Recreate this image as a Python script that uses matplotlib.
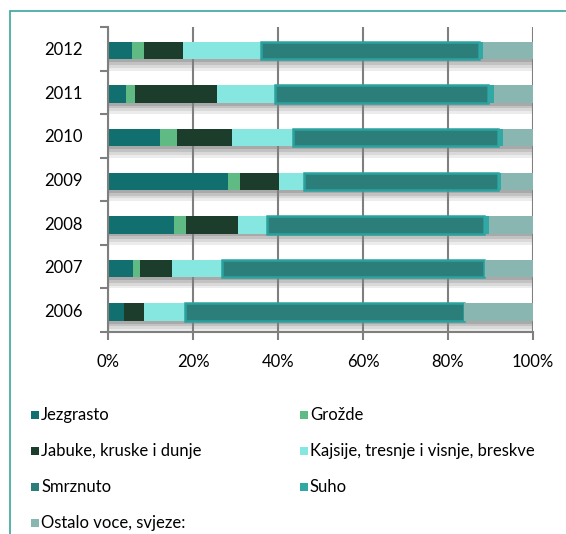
import matplotlib
matplotlib.use("Agg")
import matplotlib.pyplot as plt
from matplotlib.patches import Rectangle
import numpy as np

plt.rcParams['font.family'] = ['Lato', 'DejaVu Sans']

years = ['2006', '2007', '2008', '2009', '2010', '2011', '2012']
series_names = ['Jezgrasto', 'Grožde', 'Jabuke, kruske i dunje',
                'Kajsije, tresnje i visnje, breskve', 'Smrznuto', 'Suho',
                'Ostalo voce, svjeze:']
jezgrasto = [3.8, 5.9, 15.5, 28.2, 12.2, 4.2, 5.6]
grozde    = [0.0, 1.6, 2.8, 2.8, 4.0, 2.2, 2.9]
jabuke    = [4.7, 7.5, 12.3, 9.3, 13.0, 19.3, 9.1]
kajsije   = [9.6, 11.9, 6.9, 5.9, 14.3, 13.7, 18.4]
smrznuto  = [65.6, 61.5, 51.0, 45.5, 48.3, 50.0, 51.2]
suho      = [0.0, 0.3, 1.1, 0.8, 1.2, 1.5, 1.0]
ostalo    = [16.3, 11.3, 10.4, 7.5, 7.0, 9.1, 11.8]
xticklabels = ['0%', '20%', '40%', '60%', '80%', '100%']

colors = ['#11706f', '#5fba84', '#1d3d2c', '#86e6e0', '#2c7e7a', '#32a8a5', '#8ab6b1']
edges = [None, None, None, None, '#2ba29e', None, None]

data = [jezgrasto, grozde, jabuke, kajsije, smrznuto, suho, ostalo]

W, H = 566, 534
fig = plt.figure(figsize=(W / 100, H / 100), dpi=100)
ax = fig.add_axes([108 / W, 1 - 332 / H, (533 - 108) / W, (332 - 27) / H])

y = np.arange(len(years))
yc = y - 0.04
bh = 0.40
totals = np.sum(np.array(data), axis=0)

# shadow below bars
shadow_cols = ['#a9a9a9', '#c2c2c2', '#d9d9d9', '#ececec']
for i, sc in enumerate(shadow_cols):
    top = yc - bh / 2 - 0.065 * i
    ax.barh(top - 0.0325, totals, height=0.065, color=sc, zorder=1, linewidth=0)

left = np.zeros(len(years))
for vals, c, e in zip(data, colors, edges):
    v = np.array(vals)
    if e:
        ax.barh(yc, v, left=left, height=bh, color=c, edgecolor=e, linewidth=1.8, zorder=3)
    else:
        ax.barh(yc, v, left=left, height=bh, color=c, linewidth=0, zorder=3)
    left += v

fs = 12
ax.set_xlim(0, 100)
ax.set_ylim(-0.5, len(years) - 0.5)
ax.set_xticks(np.arange(0, 101, 20))
ax.set_xticklabels(xticklabels, fontsize=fs)
ax.set_yticks(y)
ax.set_yticklabels(years, fontsize=fs)
ax.tick_params(axis='y', length=0, pad=18)
ax.set_yticks(np.arange(-0.5, len(years), 1), minor=True)
ax.tick_params(axis='y', which='minor', length=6, width=1.5, color='#7f7f7f')
ax.tick_params(axis='x', length=6, width=1.5, color='#7f7f7f', pad=10)
ax.grid(axis='x', color='#7f7f7f', linewidth=1.5, zorder=1.5)
for s in ['top', 'right']:
    ax.spines[s].set_visible(False)
for s in ['left', 'bottom']:
    ax.spines[s].set_color('#7f7f7f')
    ax.spines[s].set_linewidth(1.5)
    ax.spines[s].set_zorder(4)

# frame
fig.patches.append(Rectangle((10 / W, -0.1), 1.2, 1 - 11 / H + 0.1,
                             transform=fig.transFigure, fill=False,
                             edgecolor='#3aa59c', linewidth=1.2))

# legend (manual, two columns)
rows = [415, 451, 487, 523]
colx = [31, 300]
for k, (idx, col) in enumerate(zip(range(7), [0, 1, 0, 1, 0, 1, 0])):
    r = rows[k // 2]
    x0 = colx[col]
    fig.patches.append(Rectangle((x0 / W, 1 - (r + 4) / H), 8 / W, 8 / H,
                                 transform=fig.transFigure, facecolor=colors[idx],
                                 edgecolor='none'))
    fig.text((x0 + 10) / W, 1 - r / H, series_names[idx], fontsize=fs,
             va='center', ha='left')

fig.savefig('out.png', dpi=100)
